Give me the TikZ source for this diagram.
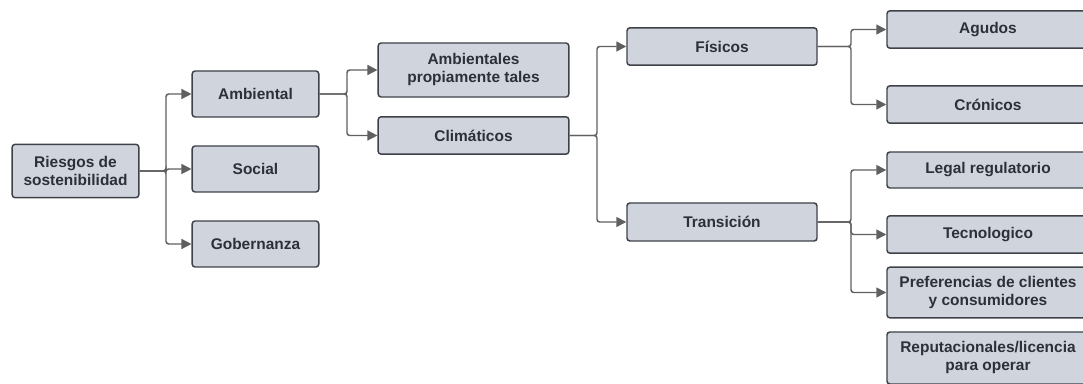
\documentclass[tikz,border=0pt]{standalone}
\usepackage{fontspec}
\setmainfont{Liberation Sans}
\usetikzlibrary{arrows.meta}
\begin{document}
\begin{tikzpicture}[x=0.75pt,y=-0.75pt]
%Define all colors here.
\definecolor{boxfill}{RGB}{207,212,221}
\definecolor{boxdraw}{RGB}{62,66,72}
\definecolor{boxtext}{RGB}{44,48,56}
\definecolor{linkdraw}{RGB}{96,96,96}
\tikzset{
  box/.style={rectangle, rounded corners=2.2pt, draw=boxdraw, line width=1.1pt, fill=boxfill, text=boxtext,
    inner sep=0pt, align=center, font=\fontsize{11.6}{13.5}\selectfont\bfseries},
  link/.style={draw=linkdraw, line width=1.1pt, rounded corners=2pt, -{Triangle[length=7.5pt,width=7.5pt]}}
}
\useasboundingbox (0,0) rectangle (1083,384);

\node(root) at (75.5,171) [box, minimum width=95pt, minimum height=40pt] {Riesgos de\\sostenibilidad};

\node(amb) at (255.5,94) [box, minimum width=95pt, minimum height=34.5pt] {Ambiental};
\node(soc) at (255.5,169) [box, minimum width=95pt, minimum height=34.5pt] {Social};
\node(gob) at (255.5,244) [box, minimum width=95pt, minimum height=34.5pt] {Gobernanza};

\node(prop) at (473.5,70) [box, minimum width=143pt, minimum height=40.5pt] {Ambientales\\propiamente tales};
\node(clim) at (473.5,135.5) [box, minimum width=143pt, minimum height=28pt] {Climáticos};

\node(fis) at (722,46.5) [box, minimum width=142.5pt, minimum height=28pt] {Físicos};
\node(trans) at (722,222) [box, minimum width=142.5pt, minimum height=28.5pt] {Transición};

\node(agu) at (988,29.5) [box, minimum width=151.5pt, minimum height=28pt] {Agudos};
\node(cro) at (988,104.5) [box, minimum width=151.5pt, minimum height=28pt] {Crónicos};
\node(leg) at (988,170) [box, minimum width=151.5pt, minimum height=27pt] {Legal regulatorio};
\node(tec) at (988,234.5) [box, minimum width=151.5pt, minimum height=28pt] {Tecnologico};
\node(pref) at (988,292.5) [box, minimum width=151.5pt, minimum height=38pt] {Preferencias de clientes\\y consumidores};
\node(rep) at (988,358) [box, minimum width=151.5pt, minimum height=39pt] {Reputacionales/licencia\\para operar};

\coordinate(t0) at (166,171);
\coordinate(t1) at (347,94);
\coordinate(t2) at (597,135.5);
\coordinate(t3) at (851,46.5);
\coordinate(t4) at (851,222);

\draw[link] (root.east) -- (t0) |- (amb.west);
\draw[link] (root.east) -- (t0) |- (soc.west);
\draw[link] (root.east) -- (t0) |- (gob.west);
\draw[link] (amb.east) -- (t1) |- (prop.west);
\draw[link] (amb.east) -- (t1) |- (clim.west);
\draw[link] (clim.east) -- (t2) |- (fis.west);
\draw[link] (clim.east) -- (t2) |- (trans.west);
\draw[link] (fis.east) -- (t3) |- (agu.west);
\draw[link] (fis.east) -- (t3) |- (cro.west);
\draw[link] (trans.east) -- (t4) |- (leg.west);
\draw[link] (trans.east) -- (t4) |- (tec.west);
\draw[link] (trans.east) -- (t4) |- (pref.west);
\end{tikzpicture}
\end{document}
